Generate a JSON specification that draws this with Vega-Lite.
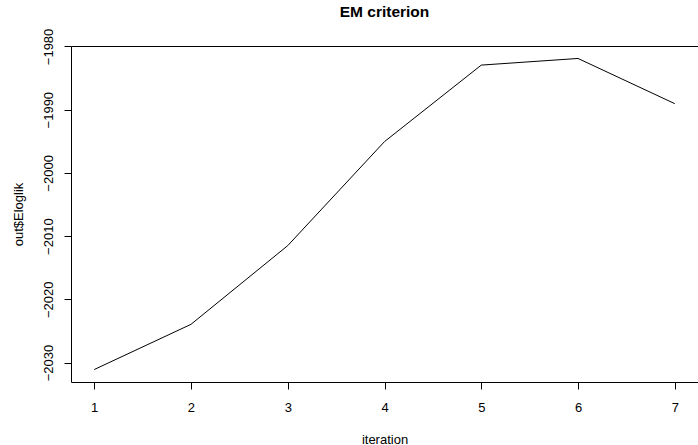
{
  "$schema": "https://vega.github.io/schema/vega-lite/v6.json",
  "autosize": "none",
  "width": 627,
  "height": 336,
  "padding": {"left": 71, "top": 46, "right": 0, "bottom": 63},
  "background": "white",
  "title": {"text": "EM criterion", "font": "Liberation Sans", "fontSize": 15.5, "fontWeight": "bold", "color": "black", "anchor": "middle", "offset": 8},
  "data": {"values": [
    {"iteration": 1, "loglik": -2031.1},
    {"iteration": 2, "loglik": -2023.95},
    {"iteration": 3, "loglik": -2011.5},
    {"iteration": 4, "loglik": -1995.05},
    {"iteration": 5, "loglik": -1982.95},
    {"iteration": 6, "loglik": -1981.9},
    {"iteration": 7, "loglik": -1989.05}
  ]},
  "mark": {"type": "line", "color": "black", "strokeWidth": 1},
  "encoding": {
    "x": {"field": "iteration", "type": "quantitative", "title": "iteration",
      "scale": {"domain": [0.76, 7.24], "nice": false, "zero": false},
      "axis": {"values": [1, 2, 3, 4, 5, 6, 7], "grid": false, "domain": false, "tickSize": 7, "tickColor": "black", "labelPadding": 12, "titlePadding": 19}},
    "y": {"field": "loglik", "type": "quantitative", "title": "out$Eloglik",
      "scale": {"domain": [-2033.07, -1979.93], "nice": false, "zero": false},
      "axis": {"values": [-2030, -2020, -2010, -2000, -1990, -1980], "grid": false, "domain": false, "tickSize": 7, "tickColor": "black", "labelAngle": -90, "labelAlign": "center", "labelBaseline": "bottom", "labelPadding": 9, "titlePadding": 17, "format": "d"}}
  },
  "config": {
    "view": {"stroke": "black", "strokeWidth": 1},
    "axis": {"labelFont": "Liberation Sans", "labelFontSize": 13, "labelColor": "black", "titleFont": "Liberation Sans", "titleFontSize": 13, "titleFontWeight": "normal", "titleColor": "black", "labelFlush": false, "labelOverlap": false}
  }
}
